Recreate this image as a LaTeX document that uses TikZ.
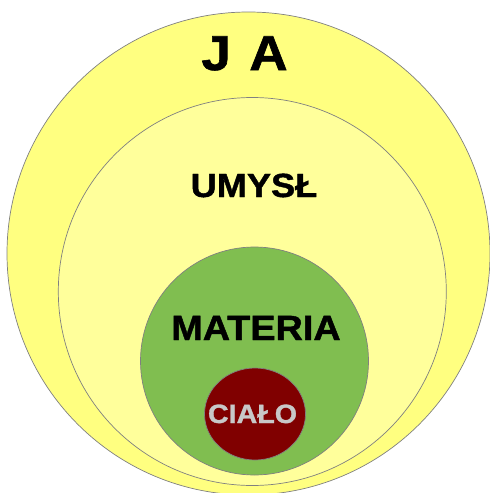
\documentclass[tikz,border=0pt]{standalone}
\usepackage{fontspec}
\setmainfont{Liberation Sans}
\newfontfamily\heavyfont{Liberation Sans Bold}[FakeBold=1.2]
\usetikzlibrary{shapes.geometric}
\definecolor{jaYellow}{RGB}{255,255,128}
\definecolor{mindYellow}{RGB}{255,255,155}
\definecolor{matGreen}{RGB}{128,190,80}
\definecolor{bodyRed}{RGB}{128,0,0}
\definecolor{edgeGray}{RGB}{128,128,128}
\definecolor{bodyText}{RGB}{200,200,200}
\tikzset{
  ring/.style={ellipse, draw=edgeGray, line width=0.7pt, inner sep=0pt},
  lbl/.style={anchor=base, xscale=1.08, inner sep=0pt},
}
\begin{document}
\begin{tikzpicture}[x=1pt,y=1pt]
\useasboundingbox[fill=white] (0,0) rectangle (490,-493);
\node[ring, fill=jaYellow, minimum width=483pt, minimum height=483pt] (ja) at (248.5,-253.5) {};
\node[ring, fill=mindYellow, minimum width=388pt, minimum height=388pt] (umysl) at (252.3,-291.5) {};
\node[ring, fill=matGreen, minimum width=228pt, minimum height=228pt] (materia) at (254.5,-361) {};
\node[ring, fill=bodyRed, minimum width=101pt, minimum height=92pt] (cialo) at (255,-414) {};
\node[lbl, font=\heavyfont\fontsize{49}{50}\selectfont] (tja) at (244.5,-70) {J\hspace{0.35em}A};
\node[lbl, font=\heavyfont\fontsize{33.5}{36}\selectfont] (tumysl) at (254,-197) {UMYSŁ};
\node[lbl, font=\heavyfont\fontsize{35}{38}\selectfont] (tmateria) at (256,-340) {MATERIA};
\node[lbl, font=\heavyfont\fontsize{26.5}{28}\selectfont, text=bodyText] (tcialo) at (252.5,-423) {CIAŁO};
\end{tikzpicture}
\end{document}
